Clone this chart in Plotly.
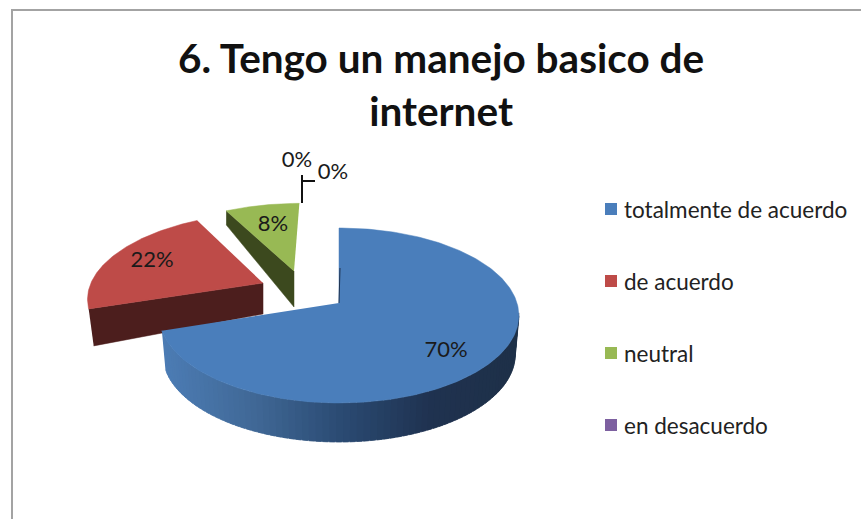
import numpy as np
import plotly.graph_objects as go

TITLE = "6. Tengo un manejo basico de<br>internet"
CATEGORIES = ["totalmente de acuerdo", "de acuerdo", "neutral", "en desacuerdo"]
VALUES = [70, 22, 8, 0, 0]

COLORS = ["#4a7ebb", "#be4b48", "#98b954", "#7d60a0"]
WALL_COLORS = ["#2b4a70", "#4c1e1d", "#3c491e"]
GRADIENT = [(0.0, (76, 124, 180)), (0.25, (64, 104, 150)), (0.5, (42, 74, 114)),
            (0.75, (31, 50, 80)), (1.0, (30, 48, 72))]

# pie geometry, in page pixels (axes below map 1:1 onto the window)
CX, CY = 339, 303
RX, A, K = 178, 85.7, 1 / 7   # perspective of the pie plane
DEPTH = 39
# how far each slice is pulled out, in pie-plane units
EXPLODE = [(0, 0), (-0.4415, 0.241), (-0.267, 0.394)]

# value labels
LABEL_X = [446, 152, 273, 297, 333]
LABEL_Y = [351, 261, 225, 161, 173]
LEGEND_X, LEGEND_Y, LEGEND_STEP = 611, 209, 72


def project(u, v, depth=0.0):
    w = 1 + K * v
    scale = 1 - 0.02 * (depth > 0)
    return CX + scale * RX * u / w, CY - A * v / w + depth


def arc(a0, a1, off, depth=0.0, n=90):
    t = np.radians(np.linspace(a0, a1, n))
    return project(np.sin(t) + off[0], np.cos(t) + off[1], depth)


def poly(x, y, color):
    return go.Scatter(x=list(x), y=list(y), mode="lines", fill="toself", fillcolor=color,
                      line=dict(color=color, width=0.5), hoverinfo="skip", showlegend=False)


def mix(f):
    for (f0, c0), (f1, c1) in zip(GRADIENT, GRADIENT[1:]):
        if f <= f1:
            s = (f - f0) / (f1 - f0)
            return "rgb({},{},{})".format(*[round(a + (b - a) * s) for a, b in zip(c0, c1)])
    return "rgb(30,48,72)"


fig = go.Figure()

edges = np.cumsum([0] + VALUES) * 3.6

# green slice: only the cut face shows
a0, a1 = edges[2], edges[3]
ox, oy = project(*EXPLODE[2])
ex, ey = arc(a0, a0, EXPLODE[2], n=1)
fig.add_trace(poly([ex[0], ox, ox, ex[0]], [ey[0], oy, oy + 36, ey[0] + 14], WALL_COLORS[2]))
ax, ay = arc(a0, a1, EXPLODE[2])
fig.add_trace(poly([ox, *ax], [oy, *ay], COLORS[2]))

# red slice: cut face at the front, then the top
a0, a1 = edges[1], edges[2]
ox, oy = project(*EXPLODE[1])
ex, ey = arc(a0, a0, EXPLODE[1], n=1)
fig.add_trace(poly([ex[0], ox, ox, ex[0] + 5], [ey[0], oy, oy + 31, ey[0] + 37], WALL_COLORS[1]))
ax, ay = arc(a0, a1, EXPLODE[1])
fig.add_trace(poly([ox, *ax], [oy, *ay], COLORS[1]))

# blue slice: shaded rim in strips, then the top
rim = np.linspace(edges[1], 98, 81)
xmin, xmax = project(np.sin(np.radians(rim[0])), np.cos(np.radians(rim[0])))[0], CX + RX
for a, b in zip(rim[:-1], rim[1:]):
    tx, ty = arc(a, b - 1.5, EXPLODE[0], n=4)
    bx, by = arc(b - 1.5, a, EXPLODE[0], depth=DEPTH, n=4)
    fig.add_trace(poly([*tx, *bx], [*ty, *by], mix((tx[0] - xmin) / (xmax - xmin))))
ax, ay = arc(0, edges[1], EXPLODE[0], n=240)
ox, oy = project(0, 0)
fig.add_trace(poly([ox, *ax], [oy, *ay], COLORS[0]))
tx, ty = arc(0, 0, EXPLODE[0], n=1)
fig.add_trace(go.Scatter(x=[tx[0] + 1, ox], y=[ty[0] + 40, oy], mode="lines",
                         line=dict(color="#1f3350", width=1), hoverinfo="skip", showlegend=False))

# leader lines of the two empty slices
fig.add_trace(go.Scatter(x=[302, 302, None, 302, 315], y=[175, 203, None, 181, 181], mode="lines",
                         line=dict(color="#111111", width=2), hoverinfo="skip", showlegend=False))

# value labels
fig.add_trace(go.Scatter(x=LABEL_X, y=LABEL_Y, mode="text", text=[f"{v}%" for v in VALUES],
                         textposition="middle center", hoverinfo="skip", showlegend=False,
                         textfont=dict(family="Lato", size=22, color="#1a1a1a")))

# legend
for i, name in enumerate(CATEGORIES):
    fig.add_trace(go.Scatter(x=[LEGEND_X], y=[LEGEND_Y + i * LEGEND_STEP], mode="markers",
                             marker=dict(symbol="square", size=12, color=COLORS[i]),
                             hoverinfo="skip", showlegend=False))
    fig.add_annotation(x=LEGEND_X + 11, y=LEGEND_Y + i * LEGEND_STEP, text=name, showarrow=False,
                       xanchor="left", yanchor="middle",
                       font=dict(family="Lato", size=22.5, color="#222222"))

fig.add_annotation(x=441, y=84, text=TITLE, showarrow=False, xanchor="center", yanchor="middle",
                   font=dict(family="Lato", size=40.5, color="#111111", weight="bold"))

fig.add_shape(type="rect", x0=12, y0=10, x1=900, y1=600, layer="below",
              line=dict(color="#a3a3a3", width=2))

fig.update_layout(
    width=861, height=519, margin=dict(l=0, r=0, t=0, b=0),
    paper_bgcolor="white", plot_bgcolor="white", showlegend=False,
    xaxis=dict(range=[0, 861], visible=False, fixedrange=True),
    yaxis=dict(range=[519, 0], visible=False, fixedrange=True),
)

fig.write_html("out.html", config=dict(displayModeBar=False),
               post_script="document.body.style.margin='0';document.body.style.overflow='hidden';")
